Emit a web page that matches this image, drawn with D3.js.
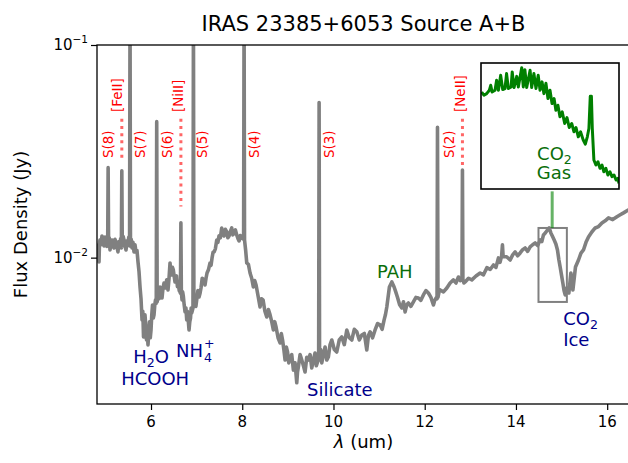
<!DOCTYPE html>
<html>
<head>
<meta charset="utf-8">
<script src="https://cdn.jsdelivr.net/npm/d3@7"></script>
<style>
    body { margin: 0; background: #fff; }
    svg { display: block; font-family: 'DejaVu Sans', sans-serif; }
</style>
</head>
<body>
<div id="chart"></div>
<script>
(function () {
    'use strict';

    // spectrum: [wavelength (um), flux density (Jy)]
    var spectrum = [
        [4.838, 0.01087], [4.850, 0.01150], [4.860, 0.00954], [4.871, 0.01180], [4.882, 0.01211],
        [4.903, 0.01150], [4.925, 0.01265], [4.947, 0.01190], [4.969, 0.01135], [4.991, 0.01250],
        [5.013, 0.01238], [5.032, 0.01130], [5.050, 0.01160], [5.060, 0.0265], [5.070, 0.01173],
        [5.085, 0.01240], [5.101, 0.01087], [5.123, 0.01150], [5.145, 0.01211], [5.167, 0.01130],
        [5.189, 0.01111], [5.210, 0.01220], [5.232, 0.01186], [5.254, 0.01120], [5.276, 0.01064],
        [5.298, 0.01190], [5.320, 0.01160], [5.335, 0.01230], [5.350, 0.01111], [5.360, 0.0256],
        [5.370, 0.01135], [5.389, 0.01260], [5.408, 0.01211], [5.430, 0.01130], [5.452, 0.01087],
        [5.474, 0.01200], [5.496, 0.01173], [5.513, 0.01250], [5.530, 0.01135], [5.540, 0.15],
        [5.550, 0.0116], [5.566, 0.01220], [5.583, 0.01111], [5.605, 0.01180], [5.627, 0.01064],
        [5.649, 0.01150], [5.671, 0.01064], [5.693, 0.01080], [5.715, 0.00954], [5.737, 0.00860],
        [5.759, 0.00728], [5.781, 0.00640], [5.803, 0.00510], [5.820, 0.00560], [5.836, 0.00424],
        [5.852, 0.00470], [5.868, 0.00538], [5.885, 0.00480], [5.901, 0.00410], [5.918, 0.00450],
        [5.934, 0.00389], [5.950, 0.00440], [5.967, 0.00499], [5.984, 0.00420], [6.000, 0.00457],
        [6.017, 0.00540], [6.033, 0.00599], [6.050, 0.00520], [6.066, 0.00538], [6.083, 0.00600],
        [6.099, 0.00633], [6.115, 0.0061], [6.125, 0.0436], [6.135, 0.0062], [6.154, 0.00668],
        [6.175, 0.00640], [6.197, 0.00728], [6.219, 0.00690], [6.241, 0.00646], [6.263, 0.00720],
        [6.285, 0.00760], [6.315, 0.00720], [6.344, 0.00786], [6.373, 0.00705], [6.395, 0.00800],
        [6.417, 0.00944], [6.433, 0.00860], [6.450, 0.00829], [6.470, 0.00900], [6.489, 0.00876],
        [6.507, 0.00820], [6.526, 0.00769], [6.543, 0.00810], [6.559, 0.0082], [6.579, 0.00730],
        [6.599, 0.0076], [6.618, 0.00700], [6.636, 0.0069], [6.645, 0.0068], [6.655, 0.0146],
        [6.665, 0.0069], [6.680, 0.00633], [6.694, 0.00690], [6.708, 0.0066], [6.727, 0.00600],
        [6.746, 0.00556], [6.765, 0.00580], [6.783, 0.0051], [6.797, 0.00560], [6.811, 0.00526],
        [6.822, 0.00490], [6.833, 0.00457], [6.850, 0.00500], [6.866, 0.0052], [6.880, 0.00580],
        [6.893, 0.0055], [6.920, 0.0058], [6.930, 0.15], [6.940, 0.0059], [6.952, 0.00640],
        [6.965, 0.00599], [6.984, 0.00590], [7.002, 0.00633], [7.028, 0.00700], [7.053, 0.00653],
        [7.075, 0.00680], [7.096, 0.0072], [7.122, 0.00800], [7.147, 0.0076], [7.165, 0.00790],
        [7.184, 0.00744], [7.206, 0.00800], [7.228, 0.00847], [7.261, 0.00880], [7.294, 0.00944],
        [7.316, 0.00920], [7.338, 0.00997], [7.360, 0.01060], [7.382, 0.01064], [7.411, 0.01100],
        [7.441, 0.01211], [7.466, 0.01180], [7.491, 0.01265], [7.520, 0.01240], [7.550, 0.01379],
        [7.575, 0.01290], [7.601, 0.01265], [7.630, 0.01360], [7.660, 0.01321], [7.685, 0.01240],
        [7.711, 0.01265], [7.740, 0.01330], [7.770, 0.01379], [7.795, 0.01280], [7.820, 0.01307],
        [7.850, 0.01350], [7.879, 0.01279], [7.905, 0.01230], [7.930, 0.01198], [7.958, 0.01270],
        [7.985, 0.01238], [8.030, 0.0122], [8.040, 0.15], [8.050, 0.0121], [8.075, 0.01080],
        [8.099, 0.00944], [8.135, 0.00930], [8.171, 0.00847], [8.207, 0.00800], [8.243, 0.00728],
        [8.273, 0.00780], [8.303, 0.00744], [8.347, 0.00660], [8.390, 0.00586], [8.423, 0.00640],
        [8.456, 0.00633], [8.497, 0.00560], [8.537, 0.00526], [8.574, 0.00570], [8.610, 0.00538],
        [8.646, 0.00500], [8.682, 0.00457], [8.712, 0.00500], [8.741, 0.00472], [8.785, 0.00420],
        [8.829, 0.00397], [8.857, 0.00440], [8.884, 0.0041], [8.912, 0.00370], [8.939, 0.0033],
        [8.966, 0.00380], [8.993, 0.0036], [9.020, 0.00320], [9.048, 0.00338], [9.085, 0.00350],
        [9.121, 0.00296], [9.158, 0.00320], [9.195, 0.00258], [9.212, 0.00290], [9.230, 0.00306],
        [9.268, 0.00350], [9.305, 0.0033], [9.341, 0.00310], [9.377, 0.0029], [9.414, 0.00340],
        [9.450, 0.0033], [9.487, 0.00350], [9.524, 0.00303], [9.560, 0.00330], [9.596, 0.00356],
        [9.623, 0.00310], [9.651, 0.00323], [9.675, 0.0034], [9.685, 0.0536], [9.695, 0.0033],
        [9.719, 0.00370], [9.743, 0.0032], [9.780, 0.00350], [9.816, 0.0038], [9.852, 0.00330],
        [9.888, 0.00341], [9.925, 0.00390], [9.963, 0.0041], [10.018, 0.00370], [10.072, 0.0036],
        [10.127, 0.00410], [10.182, 0.00424], [10.237, 0.00390], [10.292, 0.00457], [10.346, 0.00420],
        [10.401, 0.0041], [10.456, 0.00460], [10.511, 0.00448], [10.566, 0.00410], [10.621, 0.00433],
        [10.676, 0.00440], [10.730, 0.00368], [10.766, 0.00430], [10.803, 0.00448], [10.857, 0.00420],
        [10.912, 0.00457], [10.967, 0.00490], [11.022, 0.00483], [11.066, 0.00460], [11.110, 0.0051],
        [11.140, 0.00540], [11.169, 0.00586], [11.226, 0.00728], [11.279, 0.00769], [11.329, 0.00728],
        [11.365, 0.00690], [11.401, 0.00653], [11.450, 0.00600], [11.498, 0.0058], [11.534, 0.00620],
        [11.570, 0.00556], [11.607, 0.00600], [11.643, 0.00612], [11.697, 0.00590], [11.752, 0.0062],
        [11.807, 0.00650], [11.862, 0.00646], [11.916, 0.00630], [11.971, 0.00668], [12.026, 0.00700],
        [12.081, 0.00682], [12.136, 0.00650], [12.191, 0.00599], [12.220, 0.00630], [12.250, 0.00646],
        [12.270, 0.0064], [12.280, 0.041], [12.290, 0.0065], [12.314, 0.00690], [12.338, 0.00705],
        [12.411, 0.00690], [12.485, 0.0072], [12.557, 0.00760], [12.629, 0.00786], [12.684, 0.00760],
        [12.739, 0.00811], [12.780, 0.00780], [12.817, 0.0080], [12.827, 0.0258], [12.837, 0.0079],
        [12.860, 0.00760], [12.886, 0.00769], [12.960, 0.00800], [13.033, 0.00786], [13.124, 0.00820],
        [13.215, 0.00847], [13.288, 0.00830], [13.362, 0.00897], [13.435, 0.00880], [13.507, 0.00924],
        [13.562, 0.00900], [13.616, 0.00997], [13.651, 0.00950], [13.686, 0.0102], [13.704, 0.01148],
        [13.719, 0.0101], [13.796, 0.01010], [13.873, 0.00975], [13.928, 0.01030], [13.982, 0.01064],
        [14.037, 0.01020], [14.092, 0.01052], [14.147, 0.01090], [14.202, 0.0111], [14.256, 0.01070],
        [14.311, 0.01123], [14.366, 0.01150], [14.421, 0.01173], [14.476, 0.01140], [14.531, 0.01211],
        [14.567, 0.01190], [14.603, 0.01279], [14.647, 0.01310], [14.691, 0.0135], [14.728, 0.01380],
        [14.765, 0.01307], [14.800, 0.01260], [14.838, 0.01211], [14.875, 0.01160], [14.910, 0.01087],
        [14.940, 0.00980], [14.969, 0.00904], [14.998, 0.00830], [15.028, 0.0076], [15.054, 0.00700],
        [15.079, 0.00668], [15.116, 0.0072], [15.160, 0.00682], [15.204, 0.00847], [15.248, 0.00705],
        [15.305, 0.00904], [15.371, 0.00975], [15.425, 0.01050], [15.480, 0.01087], [15.535, 0.01180],
        [15.590, 0.01252], [15.663, 0.01320], [15.737, 0.01379], [15.810, 0.01400], [15.884, 0.01455],
        [15.956, 0.01490], [16.029, 0.01538], [16.121, 0.01510], [16.213, 0.01556], [16.285, 0.01590],
        [16.358, 0.01624], [16.461, 0.01676], [16.600, 0.0170]
    ];

    // inset: CO2 gas region, normalised flux
    var insetWavelength = [
        14.513, 14.523, 14.535, 14.547, 14.553, 14.559, 14.572, 14.579, 14.587, 14.597,
        14.606, 14.616, 14.623, 14.631, 14.643, 14.648, 14.656, 14.668, 14.675, 14.690,
        14.697, 14.704, 14.712, 14.727, 14.734, 14.744, 14.753, 14.763, 14.771, 14.780,
        14.788, 14.797, 14.806, 14.815, 14.824, 14.833, 14.841, 14.850, 14.859, 14.869,
        14.880, 14.890, 14.900, 14.911, 14.921, 14.930, 14.940, 14.950, 14.962, 14.971,
        14.980, 14.987, 14.993, 14.998, 15.002, 15.009, 15.018, 15.027, 15.036, 15.045,
        15.053, 15.062, 15.071, 15.080, 15.089, 15.098, 15.107, 15.115, 15.120
    ];
    var insetFlux = [
        0.770, 0.744, 0.757, 0.784, 0.823, 0.770, 0.784, 0.863, 0.784, 0.902,
        0.789, 0.797, 0.916, 0.797, 0.810, 0.929, 0.805, 0.894, 0.810, 0.963,
        0.810, 0.947, 0.805, 0.942, 0.805, 0.916, 0.797, 0.902, 0.784, 0.850,
        0.757, 0.839, 0.718, 0.784, 0.678, 0.718, 0.625, 0.665, 0.573, 0.612,
        0.520, 0.567, 0.488, 0.520, 0.454, 0.488, 0.414, 0.454, 0.388, 0.356,
        0.414, 0.480, 0.736, 0.736, 0.480, 0.230, 0.190, 0.216, 0.164, 0.190,
        0.137, 0.164, 0.111, 0.137, 0.098, 0.111, 0.071, 0.084, 0.045
    ];

    var lineNames = ['S(8)', '[FeII]', 'S(7)', 'S(6)', '[NiII]', 'S(5)', 'S(4)', 'S(3)', 'S(2)', '[NeII]'];
    var lineLabelWave = [5.064, 5.254, 5.759, 6.351, 6.603, 7.129, 8.259, 9.904, 12.524, 12.776];
    var lineLabelFlux = [0.0294, 0.0484, 0.0294, 0.0294, 0.0484, 0.0294, 0.0294, 0.0294, 0.0294, 0.0484];

    var dottedWave = [5.36, 6.655, 12.827];
    var dottedTop = [0.045, 0.045, 0.045];
    var dottedBottom = [0.029, 0.0174, 0.0267];

    var xTicks = [6, 8, 10, 12, 14, 16];
    var xTickLabels = ['6', '8', '10', '12', '14', '16'];
    var yTicks = [0.1, 0.01];
    var yTickExponents = ['\u22121', '\u22122'];

    var width = 628;
    var height = 463;
    var plotLeft = 97;
    var plotRight = 630;
    var plotTop = 45;
    var plotBottom = 404;

    var navy = '#00008b';
    var textGreen = '#0a6e0a';

    var x = d3.scaleLinear().domain([4.816, 16.5]).range([plotLeft, plotRight]);
    var y = d3.scaleLog().domain([0.00205, 0.1]).range([plotBottom, plotTop]);

    var svg = d3.select('#chart')
        .append('svg')
        .attr('width', width)
        .attr('height', height);

    svg.append('defs').append('clipPath')
        .attr('id', 'plot-clip')
        .append('rect')
        .attr('x', plotLeft)
        .attr('y', plotTop)
        .attr('width', plotRight - plotLeft)
        .attr('height', plotBottom - plotTop);

    drawAxes();
    drawSpectrum();
    drawLineLabels();
    drawAnnotations();
    drawInset();
    drawFrame();

    function drawAxes() {
        var xMinor = d3.range(5.2, 16.6, 0.4).filter(function (v) {
            return Math.abs(v / 2 - Math.round(v / 2)) > 0.01;
        });
        var yMinor = [];
        [0.001, 0.01].forEach(function (base) {
            for (var k = 2; k <= 9; k++) {
                yMinor.push(base * k);
            }
        });
        yMinor = yMinor.filter(function (v) { return v >= 0.00205; });

        var xAxis = svg.append('g')
            .attr('transform', 'translate(0,' + plotBottom + ')');
        xAxis.call(d3.axisBottom(x).tickValues(xMinor).tickSize(3.5).tickFormat('').tickSizeOuter(0));
        xAxis.call(d3.axisBottom(x).tickValues(xTicks).tickSize(6).tickFormat('').tickSizeOuter(0));
        xAxis.selectAll('.domain').remove();
        xAxis.selectAll('line').attr('stroke', '#000').attr('stroke-width', 1.2);

        svg.append('g').selectAll('text')
            .data(xTicks)
            .enter()
            .append('text')
            .attr('x', function (d) { return x(d); })
            .attr('y', plotBottom + 23)
            .attr('text-anchor', 'middle')
            .attr('font-size', 15)
            .text(function (d, i) { return xTickLabels[i]; });

        var yAxis = svg.append('g')
            .attr('transform', 'translate(' + plotLeft + ',0)');
        yAxis.call(d3.axisLeft(y).tickValues(yMinor).tickSize(3.5).tickFormat('').tickSizeOuter(0));
        yAxis.call(d3.axisLeft(y).tickValues(yTicks).tickSize(6).tickFormat('').tickSizeOuter(0));
        yAxis.selectAll('.domain').remove();
        yAxis.selectAll('line').attr('stroke', '#000').attr('stroke-width', 1.2);

        var yLabels = svg.append('g').selectAll('text')
            .data(yTicks)
            .enter()
            .append('text')
            .attr('x', plotLeft - 9)
            .attr('y', function (d) { return y(d) + 5; })
            .attr('text-anchor', 'end')
            .attr('font-size', 15);
        yLabels.append('tspan').text('10');
        yLabels.append('tspan')
            .attr('dy', -7)
            .attr('font-size', 10.5)
            .text(function (d, i) { return yTickExponents[i]; });

        svg.append('text')
            .attr('x', (plotLeft + plotRight) / 2)
            .attr('y', 31)
            .attr('text-anchor', 'middle')
            .attr('font-size', 21)
            .text('IRAS 23385+6053 Source A+B');

        var xLabel = svg.append('text')
            .attr('x', (plotLeft + plotRight) / 2)
            .attr('y', 448)
            .attr('text-anchor', 'middle')
            .attr('font-size', 18);
        xLabel.append('tspan').attr('font-style', 'italic').text('\u03bb');
        xLabel.append('tspan').text(' (um)');

        svg.append('text')
            .attr('transform', 'translate(27,' + (plotTop + plotBottom) / 2 + ') rotate(-90)')
            .attr('text-anchor', 'middle')
            .attr('font-size', 18)
            .text('Flux Density (Jy)');
    }

    function drawSpectrum() {
        var line = d3.line()
            .x(function (d) { return x(d[0]); })
            .y(function (d) { return y(d[1]); });

        svg.append('path')
            .datum(spectrum)
            .attr('clip-path', 'url(#plot-clip)')
            .attr('d', line)
            .attr('fill', 'none')
            .attr('stroke', '#808080')
            .attr('stroke-width', 3.6)
            .attr('stroke-linejoin', 'round');
    }

    function drawLineLabels() {
        var g = svg.append('g').attr('clip-path', 'url(#plot-clip)');

        g.selectAll('line.dotted')
            .data(dottedWave)
            .enter()
            .append('line')
            .attr('class', 'dotted')
            .attr('x1', function (d) { return x(d); })
            .attr('x2', function (d) { return x(d); })
            .attr('y1', function (d, i) { return y(dottedTop[i]); })
            .attr('y2', function (d, i) { return y(dottedBottom[i]); })
            .attr('stroke', 'red')
            .attr('stroke-opacity', 0.6)
            .attr('stroke-width', 3)
            .attr('stroke-dasharray', '3,4.2');

        g.selectAll('text.line-name')
            .data(lineNames)
            .enter()
            .append('text')
            .attr('class', 'line-name')
            .attr('transform', function (d, i) {
                return 'translate(' + (x(lineLabelWave[i]) + 4.9) + ',' + y(lineLabelFlux[i]) + ') rotate(-90)';
            })
            .attr('font-size', 13.5)
            .attr('fill', 'red')
            .text(function (d) { return d; });
    }

    function subText(parent, px, py, parts, anchor, color) {
        var t = parent.append('text')
            .attr('x', px)
            .attr('y', py)
            .attr('text-anchor', anchor)
            .attr('font-size', 18)
            .attr('fill', color);
        parts.forEach(function (p) {
            var s = t.append('tspan').text(p[0]);
            if (p[1]) {
                s.attr('dy', p[1]).attr('font-size', 12.6);
            }
            if (p[2]) {
                s.attr('dy', p[2]);
            }
        });
        return t;
    }

    function drawAnnotations() {
        var g = svg.append('g');

        subText(g, x(6.0), y(0.0032), [['H'], ['2', 4], ['O', null, -4]], 'middle', navy);
        subText(g, x(6.09), y(0.00252), [['HCOOH']], 'middle', navy);

        var nh = subText(g, x(6.548), y(0.00341), [['NH']], 'start', navy);
        var nhWidth = nh.node().getComputedTextLength();
        g.append('text')
            .attr('x', x(6.548) + nhWidth + 1)
            .attr('y', y(0.00341) + 5)
            .attr('font-size', 12.6)
            .attr('fill', navy)
            .text('4');
        g.append('text')
            .attr('x', x(6.548) + nhWidth + 1)
            .attr('y', y(0.00341) - 9)
            .attr('font-size', 12.6)
            .attr('fill', navy)
            .text('+');

        subText(g, x(9.421), y(0.00224), [['Silicate']], 'start', navy);
        subText(g, x(10.956), y(0.00802), [['PAH']], 'start', textGreen);
        subText(g, x(15.035), y(0.00483), [['CO'], ['2', 4]], 'start', navy);
        subText(g, x(15.035), y(0.00385), [['Ice']], 'start', navy);
    }

    function drawInset() {
        // box around the CO2 region on the main plot
        svg.append('rect')
            .attr('x', x(14.494))
            .attr('y', y(0.01379))
            .attr('width', x(15.116) - x(14.494))
            .attr('height', y(0.00619) - y(0.01379))
            .attr('fill', 'none')
            .attr('stroke', '#808080')
            .attr('stroke-width', 2);

        svg.append('line')
            .attr('x1', x(14.794))
            .attr('x2', x(14.794))
            .attr('y1', y(0.01379))
            .attr('y2', y(0.0205))
            .attr('stroke', 'green')
            .attr('stroke-opacity', 0.6)
            .attr('stroke-width', 3);

        var box = {left: 481, top: 63, right: 619, bottom: 189};
        var ix = d3.scaleLinear().domain([14.51, 15.12]).range([box.left, box.right]);
        var iy = d3.scaleLinear().domain([0, 1]).range([box.bottom, box.top]);

        svg.append('defs').append('clipPath')
            .attr('id', 'inset-clip')
            .append('rect')
            .attr('x', box.left)
            .attr('y', box.top)
            .attr('width', box.right - box.left)
            .attr('height', box.bottom - box.top);

        svg.append('rect')
            .attr('x', box.left)
            .attr('y', box.top)
            .attr('width', box.right - box.left)
            .attr('height', box.bottom - box.top)
            .attr('fill', '#fff');

        var pts = insetWavelength.map(function (w, i) { return [w, insetFlux[i]]; });
        svg.append('path')
            .datum(pts)
            .attr('clip-path', 'url(#inset-clip)')
            .attr('d', d3.line()
                .x(function (d) { return ix(d[0]); })
                .y(function (d) { return iy(d[1]); }))
            .attr('fill', 'none')
            .attr('stroke', 'green')
            .attr('stroke-width', 3)
            .attr('stroke-linejoin', 'round');

        subText(svg, 554.5, 160, [['CO'], ['2', 4]], 'middle', textGreen);
        subText(svg, 554, 179, [['Gas']], 'middle', textGreen);

        svg.append('rect')
            .attr('x', box.left)
            .attr('y', box.top)
            .attr('width', box.right - box.left)
            .attr('height', box.bottom - box.top)
            .attr('fill', 'none')
            .attr('stroke', '#000')
            .attr('stroke-width', 1.6);
    }

    function drawFrame() {
        svg.append('rect')
            .attr('x', plotLeft)
            .attr('y', plotTop)
            .attr('width', plotRight - plotLeft)
            .attr('height', plotBottom - plotTop)
            .attr('fill', 'none')
            .attr('stroke', '#000')
            .attr('stroke-width', 1.3);
    }

}());
</script>
</body>
</html>
